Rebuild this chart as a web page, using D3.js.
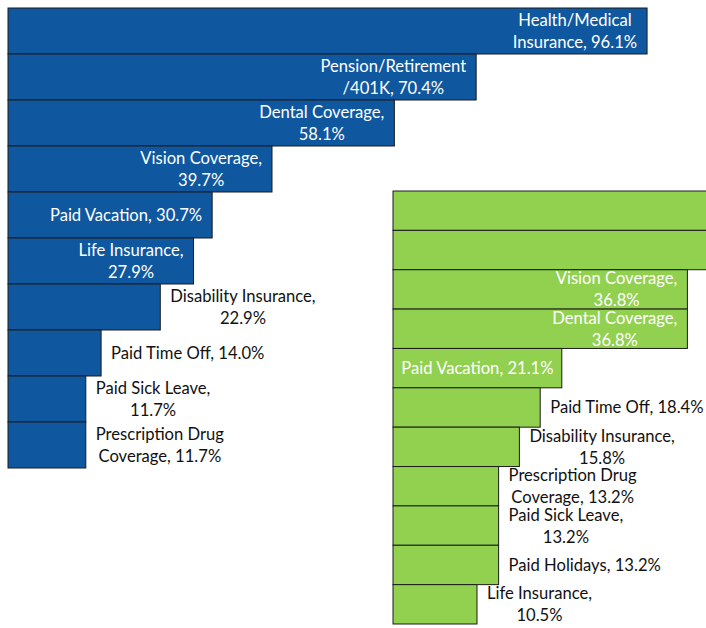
<!DOCTYPE html>
<html>
<head>
<meta charset="utf-8">
<script src="https://cdn.jsdelivr.net/npm/d3@7"></script>
<style>
  body { margin: 0; background: #fff; }
  svg { display: block; }
  text { font-family: Lato, "Open Sans", sans-serif; font-size: 16.6px; }
</style>
</head>
<body>
<svg id="chart" width="706" height="628"></svg>
<script>
// Blue series (left chart)
const blueCategories = ["Health/Medical Insurance", "Pension/Retirement /401K", "Dental Coverage",
    "Vision Coverage", "Paid Vacation", "Life Insurance", "Disability Insurance",
    "Paid Time Off", "Paid Sick Leave", "Prescription Drug Coverage"];
const blueValues = [96.1, 70.4, 58.1, 39.7, 30.7, 27.9, 22.9, 14.0, 11.7, 11.7];
// number of words on the first label line (0 = single line)
const blueWrap = [1, 1, 2, 2, 0, 2, 2, 0, 3, 2];

// Green series (right chart) - first two bars run off the page in the reference
const greenCategories = ["Health/Medical Insurance", "Pension/Retirement /401K", "Vision Coverage",
    "Dental Coverage", "Paid Vacation", "Paid Time Off", "Disability Insurance",
    "Prescription Drug Coverage", "Paid Sick Leave", "Paid Holidays", "Life Insurance"];
const greenValues = [78.9, 60.5, 36.8, 36.8, 21.1, 18.4, 15.8, 13.2, 13.2, 13.2, 10.5];
const greenWrap = [1, 1, 2, 2, 0, 0, 2, 2, 3, 0, 2];

const svg = d3.select("#chart");
const lineHeight = 22;

function drawBars(categories, values, wrap, opts) {
    const x = d3.scaleLinear().domain([0, 100]).range([opts.left, opts.left + opts.pxPerPct * 100]);
    const y = d3.scaleBand().domain(categories).range([opts.top, opts.bottom]).padding(0);

    const data = categories.map((c, i) => ({name: c, value: values[i], wrap: wrap[i]}));
    const g = svg.append("g").attr("class", opts.cls);

    g.selectAll("rect")
        .data(data)
        .join("rect")
        .attr("x", x(0))
        .attr("y", d => y(d.name))
        .attr("width", d => x(d.value) - x(0))
        .attr("height", y.bandwidth())
        .attr("fill", opts.color)
        .attr("stroke", "#1c1c1c")
        .attr("stroke-width", 1);

    data.forEach(d => {
        const words = `${d.name}, ${d.value.toFixed(1)}%`.split(" ");
        const lines = d.wrap ? [words.slice(0, d.wrap).join(" "), words.slice(d.wrap).join(" ")] : [words.join(" ")];
        const cy = y(d.name) + y.bandwidth() / 2;

        const label = g.append("text").attr("text-anchor", "middle");
        const spans = lines.map((t, i) => label.append("tspan")
            .attr("y", cy + (i - (lines.length - 1) / 2) * lineHeight)
            .attr("dy", "0.36em")
            .text(t));
        const textW = d3.max(spans, s => s.node().getComputedTextLength());
        const barW = x(d.value) - x(0);
        const barEnd = x(d.value);
        let cx, fill;
        if (textW + 8 <= barW) {
            const pad = Math.min(10, (barW - textW) / 2);
            cx = barEnd - pad - textW / 2;
            fill = "#ffffff";
        } else {
            cx = barEnd + 10 + textW / 2;
            fill = "#111111";
        }
        label.attr("fill", fill);
        spans.forEach(s => s.attr("x", cx));
    });
}

drawBars(blueCategories, blueValues, blueWrap,
    {cls: "blue", left: 8, pxPerPct: 6.65, top: 8, bottom: 468, color: "#0f58a0"});
drawBars(greenCategories, greenValues, greenWrap,
    {cls: "green", left: 393, pxPerPct: 8.0, top: 191, bottom: 624, color: "#92d050"});
</script>
</body>
</html>
